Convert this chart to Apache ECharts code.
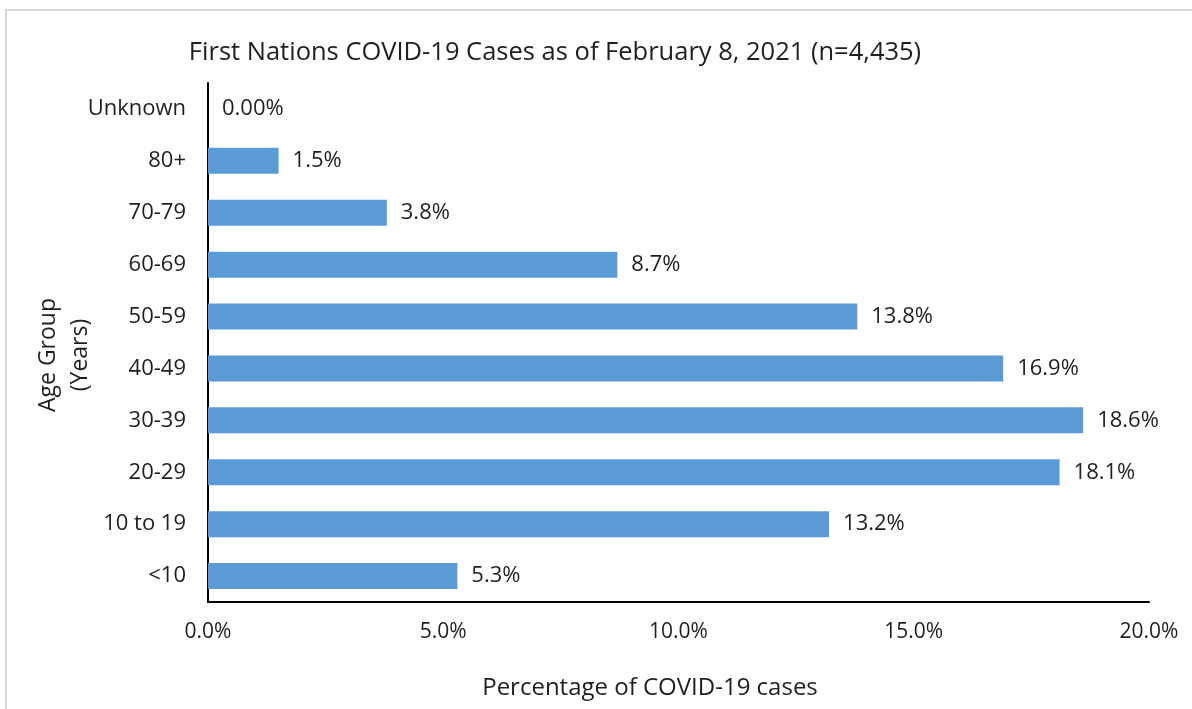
<!DOCTYPE html>
<html>
<head>
<meta charset="utf-8">
<script src="https://cdn.jsdelivr.net/npm/echarts@6/dist/echarts.min.js"></script>
<style>
  html, body { margin: 0; padding: 0; background: #fff; }
  #chart { width: 1192px; height: 709px; }
</style>
</head>
<body>
<div id="chart"></div>
<script>
// age groups, bottom to top as ECharts draws category axes
var ageGroups = ['<10', '10 to 19', '20-29', '30-39', '40-49', '50-59', '60-69', '70-79', '80+', 'Unknown'];
var casePct = [5.3, 13.2, 18.1, 18.6, 16.9, 13.8, 8.7, 3.8, 1.5, 0];
var xTicks = [0, 5, 10, 15, 20];

var font = 'Open Sans';
var txt = '#1f1f1f';
var myChart = echarts.init(document.getElementById('chart'));

var option = {
  backgroundColor: '#fff',
  animation: false,
  textStyle: { fontFamily: font },
  title: {
    text: 'First Nations COVID-19 Cases as of February 8, 2021 (n=4,435)',
    left: 550,
    top: 35,
    textAlign: 'center',
    textStyle: { fontFamily: font, fontSize: 25.5, fontWeight: 'normal', color: txt }
  },
  grid: { left: 208, right: 43, top: 83, bottom: 107 },
  xAxis: {
    type: 'value',
    min: xTicks[0],
    max: xTicks[xTicks.length - 1],
    interval: 5,
    axisLine: { show: true, lineStyle: { color: '#000', width: 2 } },
    axisTick: { show: false },
    splitLine: { show: false },
    axisLabel: {
      margin: 20,
      fontSize: 21,
      color: txt,
      fontFamily: font,
      formatter: function (v) { return v.toFixed(1) + '%'; }
    }
  },
  yAxis: {
    type: 'category',
    data: ageGroups,
    axisLine: { show: true, lineStyle: { color: '#000', width: 2 } },
    axisTick: { show: false },
    axisLabel: { margin: 22, fontSize: 22, color: txt, fontFamily: font }
  },
  series: [{
    type: 'bar',
    data: casePct,
    barWidth: 26,
    itemStyle: { color: '#5b9bd5' },
    label: {
      show: true,
      position: 'right',
      distance: 14,
      fontSize: 22,
      color: txt,
      fontFamily: font,
      formatter: function (p) {
        return p.value === 0 ? '0.00%' : p.value.toFixed(1) + '%';
      }
    }
  }],
  graphic: [
    {
      type: 'rect',
      shape: { x: 6, y: 10, width: 1300, height: 800 },
      style: { fill: 'none', stroke: '#d9d9d9', lineWidth: 2 },
      z: -1
    },
    {
      type: 'text',
      x: 650,
      y: 688,
      style: {
        text: 'Percentage of COVID-19 cases',
        font: '24px "Open Sans"',
        fill: txt,
        align: 'center',
        verticalAlign: 'middle'
      }
    },
    {
      type: 'text',
      x: 64,
      y: 355,
      rotation: Math.PI / 2,
      style: {
        text: 'Age Group\n(Years)',
        font: '23px "Open Sans"',
        fill: txt,
        align: 'center',
        verticalAlign: 'middle',
        lineHeight: 32
      }
    }
  ]
};

myChart.setOption(option, true);
</script>
</body>
</html>
